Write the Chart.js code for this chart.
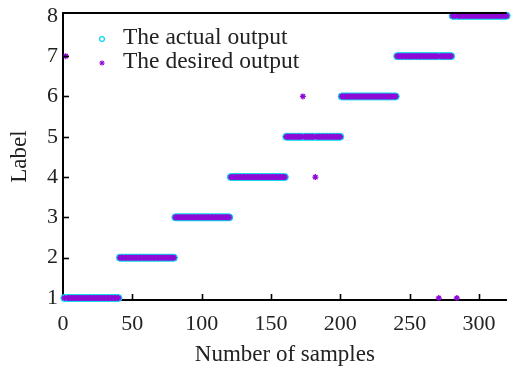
<!DOCTYPE html>
<html>
<head>
<meta charset="utf-8">
<script src="https://cdn.jsdelivr.net/npm/chart.js@4/dist/chart.umd.min.js"></script>
<style>
  html, body { margin: 0; padding: 0; background: #ffffff; }
  canvas { display: block; }
</style>
</head>
<body>
<canvas id="c" width="512" height="367"></canvas>
<script>
// Label assigned to each sample (sample number = position in the list, starting at 1)
const actualOutput = [
  1,1,1,1,1,1,1,1,1,1, 1,1,1,1,1,1,1,1,1,1, 1,1,1,1,1,1,1,1,1,1, 1,1,1,1,1,1,1,1,1,1,
  2,2,2,2,2,2,2,2,2,2, 2,2,2,2,2,2,2,2,2,2, 2,2,2,2,2,2,2,2,2,2, 2,2,2,2,2,2,2,2,2,2,
  3,3,3,3,3,3,3,3,3,3, 3,3,3,3,3,3,3,3,3,3, 3,3,3,3,3,3,3,3,3,3, 3,3,3,3,3,3,3,3,3,3,
  4,4,4,4,4,4,4,4,4,4, 4,4,4,4,4,4,4,4,4,4, 4,4,4,4,4,4,4,4,4,4, 4,4,4,4,4,4,4,4,4,4,
  5,5,5,5,5,5,5,5,5,5, 5,5,5,5,5,5,5,5,5,5, 5,5,5,5,5,5,5,5,5,5, 5,5,5,5,5,5,5,5,5,5,
  6,6,6,6,6,6,6,6,6,6, 6,6,6,6,6,6,6,6,6,6, 6,6,6,6,6,6,6,6,6,6, 6,6,6,6,6,6,6,6,6,6,
  7,7,7,7,7,7,7,7,7,7, 7,7,7,7,7,7,7,7,7,7, 7,7,7,7,7,7,7,7,7,7, 7,7,7,7,7,7,7,7,7,7,
  8,8,8,8,8,8,8,8,8,8, 8,8,8,8,8,8,8,8,8,8, 8,8,8,8,8,8,8,8,8,8, 8,8,8,8,8,8,8,8,8,8
];
const desiredOutput = [
  1,7,1,1,1,1,1,1,1,1, 1,1,1,1,1,1,1,1,1,1, 1,1,1,1,1,1,1,1,1,1, 1,1,1,1,1,1,1,1,1,1,
  2,2,2,2,2,2,2,2,2,2, 2,2,2,2,2,2,2,2,2,2, 2,2,2,2,2,2,2,2,2,2, 2,2,2,2,2,2,2,2,2,2,
  3,3,3,3,3,3,3,3,3,3, 3,3,3,3,3,3,3,3,3,3, 3,3,3,3,3,3,3,3,3,3, 3,3,3,3,3,3,3,3,3,3,
  4,4,4,4,4,4,4,4,4,4, 4,4,4,4,4,4,4,4,4,4, 4,4,4,4,4,4,4,4,4,4, 4,4,4,4,4,4,4,4,4,4,
  5,5,5,5,5,5,5,5,5,5, 5,5,6,5,5,5,5,5,5,5, 5,4,5,5,5,5,5,5,5,5, 5,5,5,5,5,5,5,5,5,5,
  6,6,6,6,6,6,6,6,6,6, 6,6,6,6,6,6,6,6,6,6, 6,6,6,6,6,6,6,6,6,6, 6,6,6,6,6,6,6,6,6,6,
  7,7,7,7,7,7,7,7,7,7, 7,7,7,7,7,7,7,7,7,7, 7,7,7,7,7,7,7,7,7,7, 1,7,7,7,7,7,7,7,7,7,
  8,8,8,1,8,8,8,8,8,8, 8,8,8,8,8,8,8,8,8,8, 8,8,8,8,8,8,8,8,8,8, 8,8,8,8,8,8,8,8,8,8
];
const seriesNames = ['The actual output', 'The desired output'];
const xTicks = [0, 50, 100, 150, 200, 250, 300];
const yTicks = [1, 2, 3, 4, 5, 6, 7, 8];
const xRange = [0, 320];
const yRange = [0.95, 8.07];

const CYAN = '#14d8ee';
const PURPLE = '#8e0bd6';
const FONT = "'Liberation Serif', 'Times New Roman', serif";

const toPoints = arr => arr.map((v, i) => ({ x: i + 1, y: v }));

// Inward tick marks, top frame line and the in-plot legend
const framePlugin = {
  id: 'frame',
  afterDraw(chart) {
    const { ctx, chartArea: a, scales: { x, y } } = chart;
    ctx.save();
    ctx.strokeStyle = '#000';
    ctx.lineWidth = 2;
    ctx.beginPath();
    ctx.moveTo(a.left - 1, a.top);
    ctx.lineTo(a.right, a.top);
    ctx.stroke();
    ctx.lineWidth = 1.6;
    const len = 6;
    x.ticks.forEach(t => {
      if (t.value <= xRange[0]) return;
      const px = Math.round(x.getPixelForValue(t.value)) + 0.5;
      ctx.beginPath();
      ctx.moveTo(px, a.bottom);
      ctx.lineTo(px, a.bottom - len);
      ctx.stroke();
    });
    y.ticks.forEach(t => {
      if (t.value <= yTicks[0] || t.value >= yTicks[yTicks.length - 1]) return;
      const py = Math.round(y.getPixelForValue(t.value)) + 0.5;
      ctx.beginPath();
      ctx.moveTo(a.left, py);
      ctx.lineTo(a.left + len, py);
      ctx.stroke();
    });

    // legend
    const lx = a.left + 39, tx = a.left + 60;
    const rows = [a.top + 27, a.top + 51];
    ctx.font = '23.5px ' + FONT;
    ctx.fillStyle = '#222';
    ctx.textBaseline = 'middle';
    ctx.textAlign = 'left';
    // circle marker
    ctx.strokeStyle = CYAN;
    ctx.lineWidth = 1.3;
    ctx.beginPath();
    ctx.arc(lx, rows[0] - 1, 2.4, 0, Math.PI * 2);
    ctx.stroke();
    // asterisk marker
    ctx.strokeStyle = PURPLE;
    ctx.lineWidth = 1.2;
    const r = 2.6;
    for (let k = 0; k < 4; k++) {
      const ang = k * Math.PI / 4;
      ctx.beginPath();
      ctx.moveTo(lx - r * Math.cos(ang), rows[1] - 1 - r * Math.sin(ang));
      ctx.lineTo(lx + r * Math.cos(ang), rows[1] - 1 + r * Math.sin(ang));
      ctx.stroke();
    }
    ctx.fillText(seriesNames[0], tx, rows[0] - 2);
    ctx.fillText(seriesNames[1], tx, rows[1] - 2);
    ctx.restore();
  }
};

new Chart(document.getElementById('c'), {
  type: 'scatter',
  data: {
    datasets: [
      {
        label: seriesNames[0],
        data: toPoints(actualOutput),
        pointStyle: 'circle',
        pointRadius: 3.5,
        pointBorderWidth: 1,
        pointBorderColor: CYAN,
        pointBackgroundColor: CYAN,
        clip: false,
        order: 2
      },
      {
        label: seriesNames[1],
        data: toPoints(desiredOutput),
        pointStyle: 'star',
        pointRadius: 3,
        pointBorderWidth: 1.3,
        pointBorderColor: PURPLE,
        pointBackgroundColor: PURPLE,
        clip: false,
        order: 1
      }
    ]
  },
  options: {
    responsive: false,
    animation: false,
    devicePixelRatio: 1,
    layout: { padding: { top: 13, right: 0, left: 0, bottom: 0 } },
    plugins: { legend: { display: false }, tooltip: { enabled: false } },
    scales: {
      x: {
        type: 'linear',
        min: xRange[0],
        max: xRange[1],
        afterBuildTicks: s => { s.ticks = xTicks.map(v => ({ value: v })); },
        afterFit: s => { s.height = 67; },
        grid: { display: false, drawTicks: false },
        border: { display: true, color: '#000', width: 2 },
        ticks: {
          maxRotation: 0,
          autoSkip: false,
          padding: 11,
          color: '#222',
          font: { family: FONT, size: 22 }
        },
        title: {
          display: true,
          text: 'Number of samples',
          color: '#222',
          padding: { top: 0, bottom: -2 },
          font: { family: FONT, size: 23 }
        }
      },
      y: {
        type: 'linear',
        min: yRange[0],
        max: yRange[1],
        afterBuildTicks: s => { s.ticks = yTicks.map(v => ({ value: v })); },
        afterFit: s => { s.width = 63; s.paddingTop = 0; s.paddingBottom = 0; },
        grid: { display: false, drawTicks: false },
        border: { display: true, color: '#000', width: 2 },
        ticks: {
          autoSkip: false,
          padding: 5,
          color: '#222',
          font: { family: FONT, size: 22, lineHeight: 1 }
        },
        title: {
          display: true,
          text: 'Label',
          color: '#222',
          padding: { top: 6, bottom: 0 },
          font: { family: FONT, size: 23 }
        }
      }
    }
  },
  plugins: [framePlugin]
});
</script>
</body>
</html>
